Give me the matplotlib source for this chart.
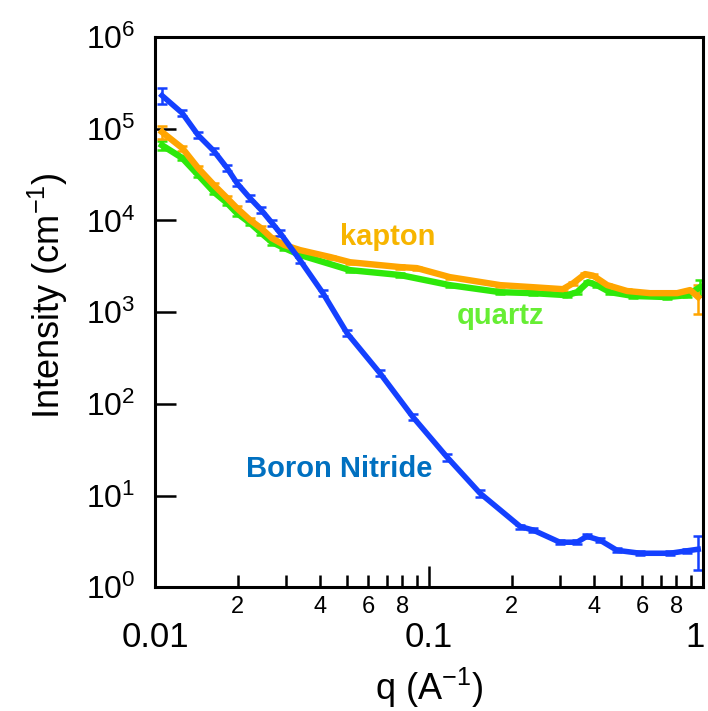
import matplotlib
matplotlib.use("Agg")
import matplotlib.pyplot as plt
from matplotlib.ticker import FixedLocator, FixedFormatter, NullLocator
from matplotlib.transforms import ScaledTranslation

plt.rcParams["font.family"] = ["Liberation Sans", "DejaVu Sans"]
plt.rcParams["mathtext.fontset"] = "custom"
plt.rcParams["mathtext.rm"] = "Liberation Sans"
plt.rcParams["mathtext.it"] = "Liberation Sans"

# Boron Nitride
q_bn = [0.0106, 0.01256, 0.01436, 0.0164, 0.01832, 0.0199, 0.0222, 0.0244, 0.0267,
        0.0286, 0.0338, 0.041, 0.0502, 0.0662, 0.0874, 0.1164, 0.1535, 0.215,
        0.24, 0.30, 0.347, 0.377, 0.421, 0.485, 0.589, 0.758, 0.875, 0.96]
i_bn = [2.3e5, 1.48e5, 8.5e4, 5.7e4, 3.72e4, 2.55e4, 1.75e4, 1.3e4, 9.4e3,
        7.3e3, 3.69e3, 1.61e3, 590, 216, 71.6, 26.2, 10.6, 4.6,
        4.2, 3.1, 3.1, 3.6, 3.26, 2.53, 2.35, 2.35, 2.5, 2.6]
err_bn = [0.2, 0.08, 0.08, 0.08, 0.08, 0.08, 0.08, 0.08, 0.08,
          0.08, 0.08, 0.08, 0.08, 0.08, 0.08, 0.08, 0.08, 0.05,
          0.05, 0.05, 0.05, 0.05, 0.05, 0.05, 0.05, 0.05, 0.05, 0.4]

# kapton
q_kap = [0.0106, 0.01256, 0.01436, 0.0164, 0.01832, 0.0199, 0.0222, 0.0244, 0.0267,
         0.0296, 0.0338, 0.0437, 0.0515, 0.0783, 0.0903, 0.119, 0.182,
         0.24, 0.308, 0.336, 0.371, 0.397, 0.447, 0.528, 0.641, 0.804, 0.897, 0.96]
i_kap = [9.2e4, 6.15e4, 3.72e4, 2.43e4, 1.75e4, 1.36e4, 1.01e4, 8.2e3, 6.4e3,
         5.4e3, 4.75e3, 3.98e3, 3.5e3, 3.1e3, 3.02e3, 2.41e3, 1.97e3,
         1.87e3, 1.78e3, 2.07e3, 2.6e3, 2.5e3, 1.97e3, 1.7e3, 1.61e3, 1.61e3, 1.74e3, 1.46e3]
err_kap = [0.17, 0.06, 0.06, 0.06, 0.06, 0.06, 0.06, 0.06, 0.06,
           0.04, 0.04, 0.04, 0.04, 0.04, 0.04, 0.04, 0.04,
           0.04, 0.04, 0.04, 0.04, 0.04, 0.04, 0.04, 0.04, 0.04, 0.04, 0.35]

# quartz
q_qtz = [0.0106, 0.01256, 0.01436, 0.0164, 0.01832, 0.0199, 0.0222, 0.0244, 0.0267,
         0.0296, 0.0338, 0.0515, 0.0783, 0.119, 0.182,
         0.24, 0.319, 0.347, 0.38, 0.41, 0.458, 0.556, 0.74, 0.875, 0.975]
i_qtz = [6.6e4, 4.8e4, 3.13e4, 2.04e4, 1.55e4, 1.2e4, 9.4e3, 7.3e3, 5.8e3,
         5.0e3, 4.2e3, 2.87e3, 2.54e3, 1.97e3, 1.65e3,
         1.61e3, 1.53e3, 1.65e3, 2.12e3, 1.97e3, 1.65e3, 1.5e3, 1.46e3, 1.53e3, 1.87e3]
err_qtz = [0.12, 0.06, 0.06, 0.06, 0.06, 0.06, 0.06, 0.06, 0.06,
           0.04, 0.04, 0.04, 0.04, 0.04, 0.04,
           0.04, 0.04, 0.04, 0.04, 0.04, 0.04, 0.04, 0.04, 0.04, 0.2]

x_minor_ticks = [0.02, 0.03, 0.04, 0.05, 0.06, 0.07, 0.08, 0.09,
                 0.2, 0.3, 0.4, 0.5, 0.6, 0.7, 0.8, 0.9]
x_minor_labels = ["2", "", "4", "", "6", "", "8", "",
                  "2", "", "4", "", "6", "", "8", ""]

fig = plt.figure(figsize=(7.08, 7.11), dpi=100)
ax = fig.add_axes([0.219, 0.174, 0.774, 0.774])

series = [
    (q_qtz, i_qtz, err_qtz, "#2ee80a", 4.6),
    (q_kap, i_kap, err_kap, "#ffa500", 4.6),
    (q_bn, i_bn, err_bn, "#1440ff", 4.0),
]
for q, inten, err, color, lw in series:
    yerr = [v * e for v, e in zip(inten, err)]
    ax.errorbar(q, inten, yerr=yerr, color=color, lw=lw, elinewidth=1.8,
                capsize=3.5, capthick=1.8)

ax.set_xscale("log")
ax.set_yscale("log")
ax.set_xlim(0.01, 1)
ax.set_ylim(1, 1e6)

ax.xaxis.set_major_locator(FixedLocator([0.01, 0.1, 1]))
ax.xaxis.set_major_formatter(FixedFormatter(["0.01", "0.1", "1"]))
ax.xaxis.set_minor_locator(FixedLocator(x_minor_ticks))
ax.xaxis.set_minor_formatter(FixedFormatter(x_minor_labels))
ax.yaxis.set_major_locator(FixedLocator([1, 10, 100, 1e3, 1e4, 1e5, 1e6]))
ax.yaxis.set_major_formatter(FixedFormatter(
    [r"$10^{0}$", r"$10^{1}$", r"$10^{2}$", r"$10^{3}$",
     r"$10^{4}$", r"$10^{5}$", r"$10^{6}$"]))
ax.yaxis.set_minor_locator(NullLocator())

ax.tick_params(axis="both", which="major", direction="in", length=15, width=1.8,
               labelsize=23, colors="black")
ax.tick_params(axis="x", which="major", pad=24, labelsize=25)
ax.tick_params(axis="x", which="minor", direction="in", length=9, width=1.8,
               labelsize=17, pad=6)
ax.tick_params(axis="y", which="major", pad=14)
for s in ax.spines.values():
    s.set_linewidth(2.2)

# nudge the "1" a few pixels left so it stays inside the canvas
last = ax.xaxis.get_major_ticks()[-1].label1
last.set_transform(last.get_transform() + ScaledTranslation(-6 / 72, 0, fig.dpi_scale_trans))

ax.set_xlabel(r"q (A$^{-1}$)", fontsize=26)
ax.set_ylabel(r"Intensity (cm$^{-1}$)", fontsize=26)
ax.xaxis.set_label_coords(0.5, -0.142)
ax.yaxis.set_label_coords(-0.156, 0.53)

ax.text(0.425, 0.636, "kapton", transform=ax.transAxes, color="#f7b500",
        fontsize=21, fontweight="bold", ha="center", va="center")
ax.text(0.631, 0.493, "quartz", transform=ax.transAxes, color="#66ee33",
        fontsize=21, fontweight="bold", ha="center", va="center")
ax.text(0.336, 0.215, "Boron Nitride", transform=ax.transAxes, color="#0070c0",
        fontsize=21, fontweight="bold", ha="center", va="center")

fig.savefig("out.png", dpi=100)
